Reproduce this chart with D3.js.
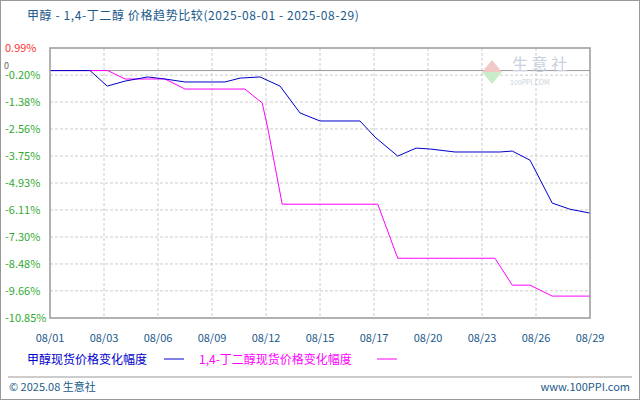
<!DOCTYPE html><html><head><meta charset="utf-8"><script src="https://cdn.jsdelivr.net/npm/d3@7"></script>
<style>body{margin:0}svg{font-family:"Noto Sans CJK SC",sans-serif}</style></head><body><svg id="c" width="640" height="400"></svg><script>
const xLabels=["08/01","08/03","08/06","08/09","08/12","08/15","08/17","08/20","08/23","08/26","08/29"];
const yTicks=[0.99,-0.20,-1.38,-2.56,-3.75,-4.93,-6.11,-7.30,-8.48,-9.66,-10.85];
const blueX=[0,0.74,1.06,1.39,1.81,2.13,2.5,3.24,3.52,3.89,4.26,4.63,5,5.74,6.02,6.44,6.78,7.04,7.5,8.33,8.56,8.89,9.3,9.63,10];
const blueY=[0,0,-0.68,-0.46,-0.28,-0.37,-0.5,-0.5,-0.33,-0.28,-0.68,-1.86,-2.21,-2.21,-2.92,-3.75,-3.4,-3.44,-3.57,-3.57,-3.53,-3.93,-5.81,-6.08,-6.25];
const magX=[0,1.07,1.39,2.13,2.5,3.61,3.93,4.04,4.3,6.07,6.44,8.24,8.56,8.89,9.3,10];
const magY=[0,0,-0.37,-0.37,-0.81,-0.81,-1.42,-2.61,-5.86,-5.86,-8.23,-8.23,-9.41,-9.41,-9.89,-9.89];
const svg=d3.select("#c");
svg.append("rect").attr("x",0.5).attr("y",0.5).attr("width",639).attr("height",399).attr("fill","#fff").attr("stroke","#999");
const L=50,R=590,T=48,B=318;
const x=d3.scaleLinear().domain([0,10]).range([L,R]);
const y=d3.scaleLinear().domain([0.99,-10.85]).range([T,B]);
svg.append("text").attr("x",27).attr("y",20).attr("fill","#1a5a8a").attr("font-size",12).attr("letter-spacing",0.6).text("甲醇 - 1,4-丁二醇 价格趋势比较(2025-08-01 - 2025-08-29)");
const g=svg.append("g");
xLabels.forEach((l,i)=>{ if(i>0&&i<10) g.append("line").attr("x1",x(i)).attr("x2",x(i)).attr("y1",T).attr("y2",B).attr("stroke","#ccc").attr("stroke-dasharray","3,2");});
yTicks.forEach((t,i)=>{ if(i>0&&i<10) g.append("line").attr("x1",L).attr("x2",R).attr("y1",y(t)).attr("y2",y(t)).attr("stroke","#ccc").attr("stroke-dasharray","3,2");
 svg.append("text").attr("x",5).attr("y",y(t)+4).attr("font-size",11).attr("fill",i==0?"#f33":"#3a3").text(t.toFixed(2)+"%");});
svg.append("text").attr("x",4).attr("y",y(0)-2).attr("font-size",9).attr("fill","#666").text("0");
g.append("line").attr("x1",L).attr("x2",R).attr("y1",y(0)).attr("y2",y(0)).attr("stroke","#999");
svg.append("text").attr("x",512).attr("y",70).attr("font-size",16).attr("fill","#c8d0dc").text("生 意 社");
svg.append("text").attr("x",510).attr("y",85).attr("font-size",7).attr("fill","#c8d0dc").text("100PPI.COM");
svg.append("path").attr("d","M482,72 L492,60 L502,72 Z").attr("fill","#f0c8c8");
svg.append("path").attr("d","M482,72 L492,84 L502,72 Z").attr("fill","#c8ecc8");
const line=d3.line().x(d=>x(d[0])).y(d=>y(d[1]));
g.append("path").attr("d",line(magX.map((v,i)=>[v,magY[i]]))).attr("fill","none").attr("stroke","#f0f");
g.append("path").attr("d",line(blueX.map((v,i)=>[v,blueY[i]]))).attr("fill","none").attr("stroke","#00c");
svg.append("rect").attr("x",L).attr("y",T).attr("width",R-L).attr("height",B-T).attr("fill","none").attr("stroke","#999").attr("stroke-width",1.5);
xLabels.forEach((l,i)=>svg.append("text").attr("x",x(i)).attr("y",342).attr("text-anchor","middle").attr("font-size",11).attr("fill","#1a5a8a").text(l));
svg.append("text").attr("x",27).attr("y",364).attr("font-size",12).attr("fill","#00c").text("甲醇现货价格变化幅度");
svg.append("line").attr("x1",164).attr("x2",184).attr("y1",359).attr("y2",359).attr("stroke","#00c");
svg.append("text").attr("x",199).attr("y",364).attr("font-size",12).attr("fill","#f0f").text("1,4-丁二醇现货价格变化幅度");
svg.append("line").attr("x1",377).attr("x2",397).attr("y1",359).attr("y2",359).attr("stroke","#f0f");
svg.append("line").attr("x1",8).attr("x2",632).attr("y1",377).attr("y2",377).attr("stroke","#999");
svg.append("text").attr("x",9).attr("y",391).attr("font-size",11).attr("fill","#1a5a8a").text("© 2025.08 生意社");
svg.append("text").attr("x",630).attr("y",391).attr("text-anchor","end").attr("font-size",11).attr("fill","#1a5a8a").text("www.100PPI.com");
</script></body></html>
